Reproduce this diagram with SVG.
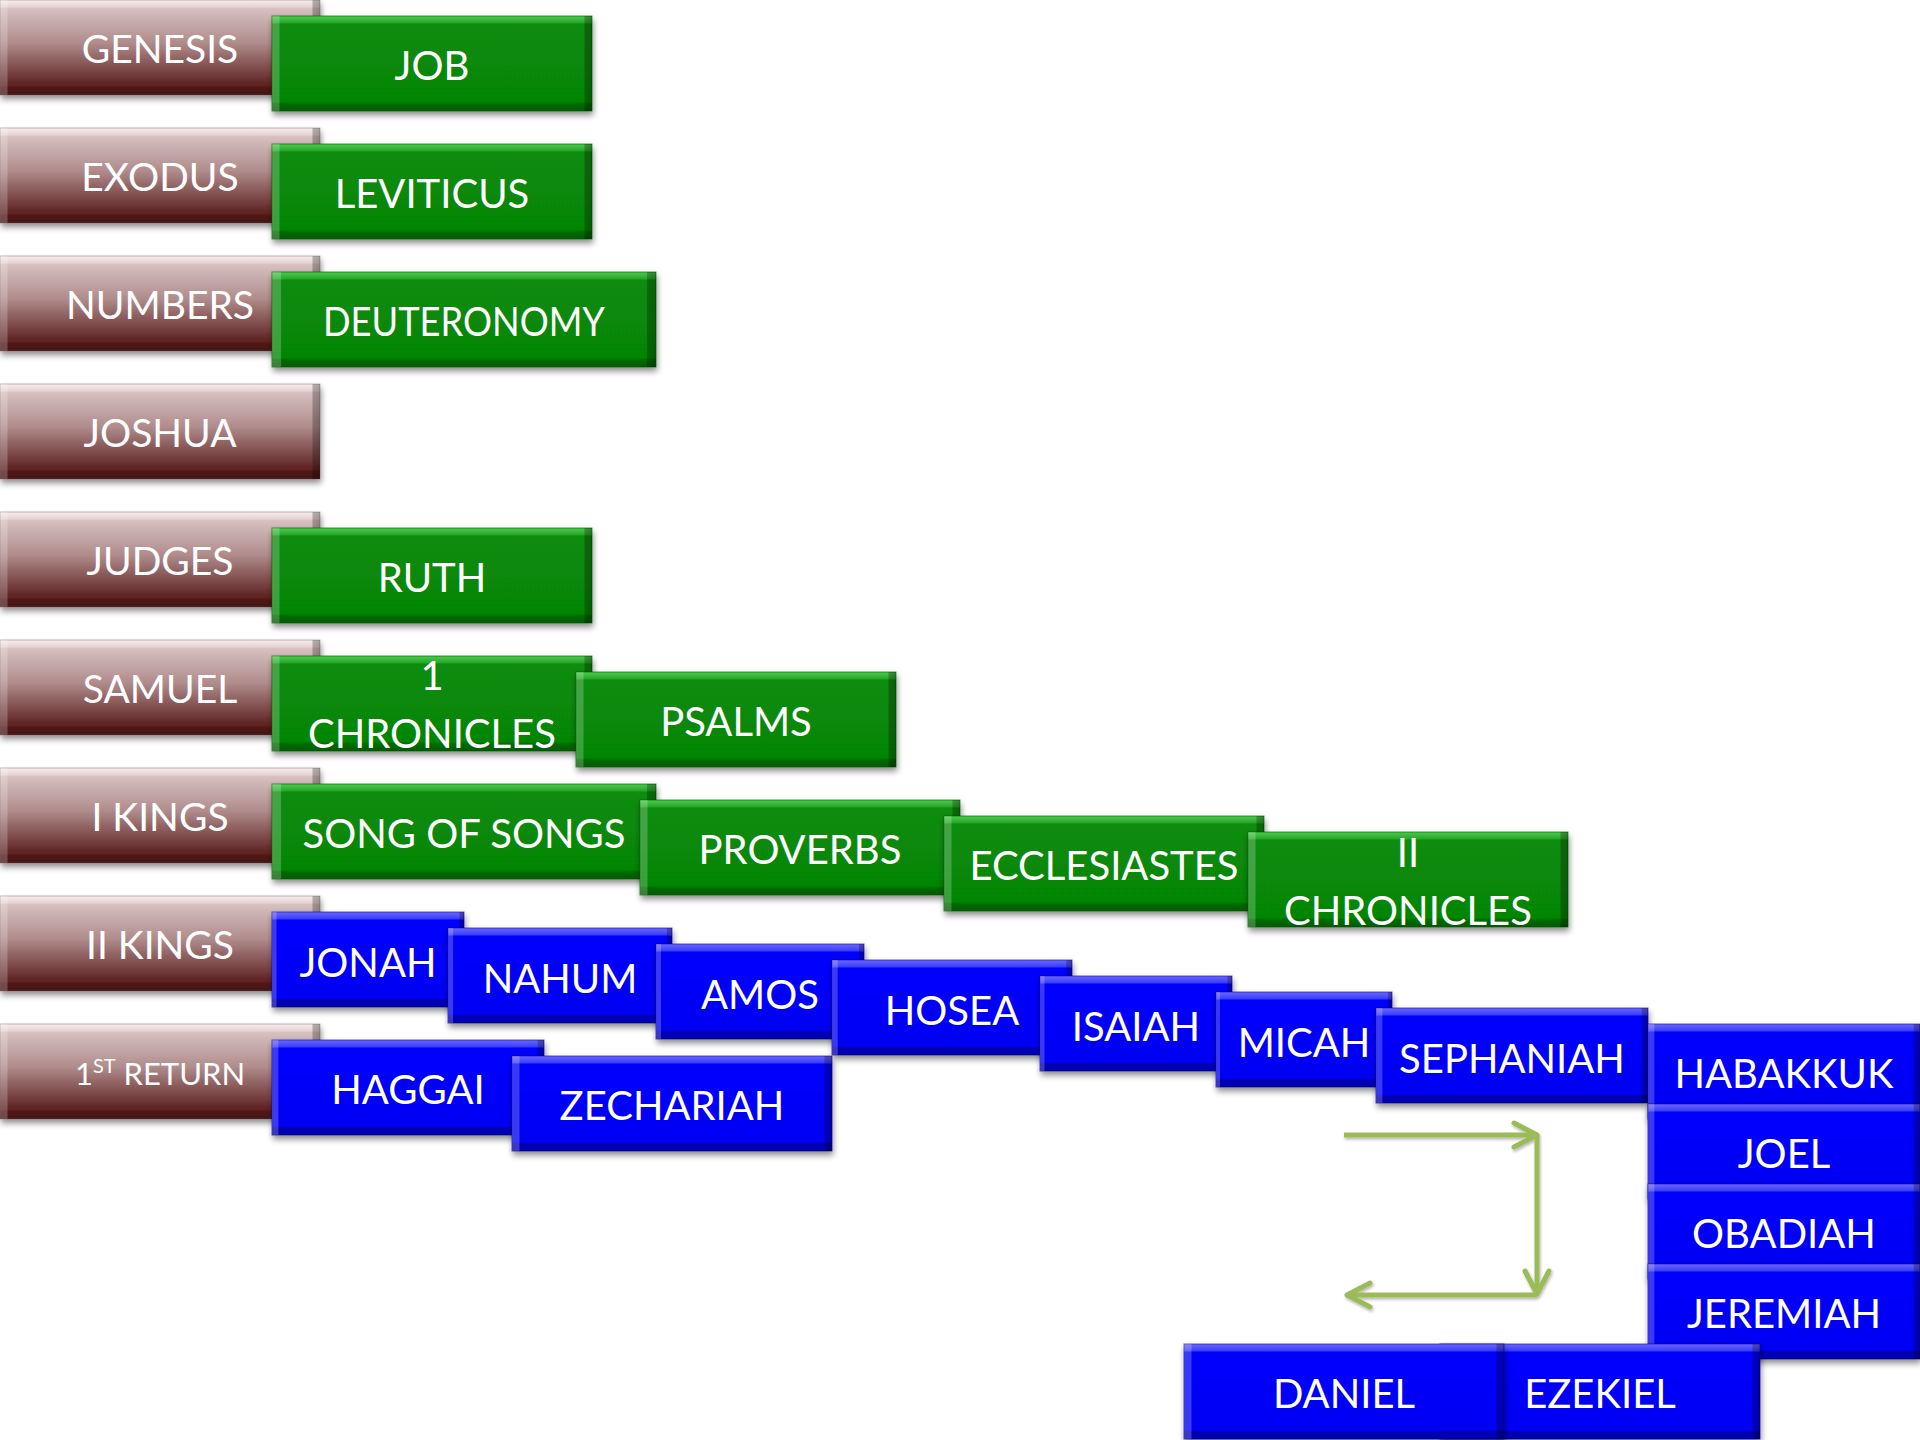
<svg xmlns="http://www.w3.org/2000/svg" width="1920" height="1440" viewBox="0 0 1920 1440">
<defs>
<linearGradient id="gBrown" x1="0" y1="0" x2="0" y2="1">
<stop offset="0" stop-color="#f6ecec"/>
<stop offset="0.07" stop-color="#e6d4d4"/>
<stop offset="0.09" stop-color="#d6c0c0"/>
<stop offset="0.45" stop-color="#b08c8c"/>
<stop offset="0.9" stop-color="#5e2020"/>
<stop offset="0.93" stop-color="#4e1616"/>
<stop offset="1" stop-color="#481414"/>
</linearGradient>
<linearGradient id="gGreen" x1="0" y1="0" x2="0" y2="1">
<stop offset="0" stop-color="#4acb4a"/>
<stop offset="0.07" stop-color="#2aa82a"/>
<stop offset="0.085" stop-color="#088c08"/>
<stop offset="0.9" stop-color="#068506"/>
<stop offset="0.925" stop-color="#056a05"/>
<stop offset="1" stop-color="#045e04"/>
</linearGradient>
<linearGradient id="gBlue" x1="0" y1="0" x2="0" y2="1">
<stop offset="0" stop-color="#6a6aff"/>
<stop offset="0.07" stop-color="#3c3cff"/>
<stop offset="0.085" stop-color="#0606ff"/>
<stop offset="0.9" stop-color="#0000f2"/>
<stop offset="0.925" stop-color="#0000bc"/>
<stop offset="1" stop-color="#0000a8"/>
</linearGradient>
<linearGradient id="gSide" x1="0" y1="0" x2="1" y2="0">
<stop offset="0" stop-color="#ffffff" stop-opacity="0.22"/>
<stop offset="0.022" stop-color="#ffffff" stop-opacity="0.22"/>
<stop offset="0.025" stop-color="#ffffff" stop-opacity="0"/>
<stop offset="0.975" stop-color="#000000" stop-opacity="0"/>
<stop offset="0.978" stop-color="#000000" stop-opacity="0.25"/>
<stop offset="1" stop-color="#000000" stop-opacity="0.3"/>
</linearGradient>
<filter id="shadow" x="-10%" y="-10%" width="125%" height="140%">
<feGaussianBlur in="SourceAlpha" stdDeviation="3"/>
<feOffset dx="1" dy="4" result="b"/>
<feComponentTransfer><feFuncA type="linear" slope="0.45"/></feComponentTransfer>
<feMerge><feMergeNode/><feMergeNode in="SourceGraphic"/></feMerge>
</filter>
<filter id="ashadow" x="-10%" y="-10%" width="130%" height="130%">
<feGaussianBlur in="SourceAlpha" stdDeviation="1.5"/>
<feOffset dx="1" dy="2"/>
<feComponentTransfer><feFuncA type="linear" slope="0.3"/></feComponentTransfer>
<feMerge><feMergeNode/><feMergeNode in="SourceGraphic"/></feMerge>
</filter>
<marker id="chev" markerUnits="userSpaceOnUse" markerWidth="60" markerHeight="60" refX="0" refY="0" orient="auto" style="overflow:visible">
<path d="M -23 -12 L 0 0 L -23 12" fill="none" stroke="#9bbb59" stroke-width="5" stroke-linecap="round" stroke-linejoin="round"/>
</marker>
</defs>
<style>
.br{fill:url(#gBrown);stroke:#6a3a3a;stroke-opacity:0.35;stroke-width:1;filter:url(#shadow)}
.gr{fill:url(#gGreen);stroke:#035003;stroke-opacity:0.6;stroke-width:1;filter:url(#shadow)}
.bl{fill:url(#gBlue);stroke:#00008a;stroke-opacity:0.6;stroke-width:1;filter:url(#shadow)}
.ov{fill:url(#gSide)}
text{font-family:Lato,"Open Sans","Liberation Sans",sans-serif;fill:#ffffff;text-anchor:middle}
.tb{font-size:39px}
.t{font-size:40px}
.arrow{fill:none;stroke:#9bbb59;stroke-width:5;marker-end:url(#chev)}
</style>

<g id="genesis"><rect class="br" x="0" y="0" width="320" height="95"/><rect class="ov" x="0" y="0" width="320" height="95"/><text class="tb" x="160" y="63">GENESIS</text></g>
<g id="exodus"><rect class="br" x="0" y="128" width="320" height="95"/><rect class="ov" x="0" y="128" width="320" height="95"/><text class="tb" x="160" y="191">EXODUS</text></g>
<g id="numbers"><rect class="br" x="0" y="256" width="320" height="95"/><rect class="ov" x="0" y="256" width="320" height="95"/><text class="tb" x="160" y="319">NUMBERS</text></g>
<g id="joshua"><rect class="br" x="0" y="384" width="320" height="95"/><rect class="ov" x="0" y="384" width="320" height="95"/><text class="tb" x="160" y="447">JOSHUA</text></g>
<g id="judges"><rect class="br" x="0" y="512" width="320" height="95"/><rect class="ov" x="0" y="512" width="320" height="95"/><text class="tb" x="160" y="575">JUDGES</text></g>
<g id="samuel"><rect class="br" x="0" y="640" width="320" height="95"/><rect class="ov" x="0" y="640" width="320" height="95"/><text class="tb" x="160" y="703">SAMUEL</text></g>
<g id="ikings"><rect class="br" x="0" y="768" width="320" height="95"/><rect class="ov" x="0" y="768" width="320" height="95"/><text class="tb" x="160" y="831">I KINGS</text></g>
<g id="iikings"><rect class="br" x="0" y="896" width="320" height="95"/><rect class="ov" x="0" y="896" width="320" height="95"/><text class="tb" x="160" y="959">II KINGS</text></g>
<g id="return1"><rect class="br" x="0" y="1024" width="320" height="95"/><rect class="ov" x="0" y="1024" width="320" height="95"/><text x="160" y="1085" style="font-size:31px">1<tspan dy="-12" style="font-size:20px">ST</tspan><tspan dy="12"> RETURN</tspan></text></g>

<g id="job"><rect class="gr" x="272" y="16" width="320" height="95"/><rect class="ov" x="272" y="16" width="320" height="95"/><text class="t" x="432" y="80">JOB</text></g>
<g id="leviticus"><rect class="gr" x="272" y="144" width="320" height="95"/><rect class="ov" x="272" y="144" width="320" height="95"/><text class="t" x="432" y="208">LEVITICUS</text></g>
<g id="deuteronomy"><rect class="gr" x="272" y="272" width="384" height="95"/><rect class="ov" x="272" y="272" width="384" height="95"/><text class="t" x="464" y="336" textLength="282" lengthAdjust="spacingAndGlyphs">DEUTERONOMY</text></g>
<g id="ruth"><rect class="gr" x="272" y="528" width="320" height="95"/><rect class="ov" x="272" y="528" width="320" height="95"/><text class="t" x="432" y="592">RUTH</text></g>
<g id="ichronicles"><rect class="gr" x="272" y="656" width="320" height="95"/><rect class="ov" x="272" y="656" width="320" height="95"/><text class="t" x="432" y="690">1</text><text class="t" x="432" y="748">CHRONICLES</text></g>
<g id="psalms"><rect class="gr" x="576" y="672" width="320" height="95"/><rect class="ov" x="576" y="672" width="320" height="95"/><text class="t" x="736" y="736">PSALMS</text></g>
<g id="songofsongs"><rect class="gr" x="272" y="784" width="384" height="95"/><rect class="ov" x="272" y="784" width="384" height="95"/><text class="t" x="464" y="848">SONG OF SONGS</text></g>
<g id="proverbs"><rect class="gr" x="640" y="800" width="320" height="95"/><rect class="ov" x="640" y="800" width="320" height="95"/><text class="t" x="800" y="864">PROVERBS</text></g>
<g id="ecclesiastes"><rect class="gr" x="944" y="816" width="320" height="95"/><rect class="ov" x="944" y="816" width="320" height="95"/><text class="t" x="1104" y="880">ECCLESIASTES</text></g>
<g id="iichronicles"><rect class="gr" x="1248" y="832" width="320" height="95"/><rect class="ov" x="1248" y="832" width="320" height="95"/><text class="t" x="1408" y="867">II</text><text class="t" x="1408" y="925">CHRONICLES</text></g>

<g id="jonah"><rect class="bl" x="272" y="912" width="192" height="95"/><rect class="ov" x="272" y="912" width="192" height="95"/><text class="t" x="368" y="977">JONAH</text></g>
<g id="nahum"><rect class="bl" x="448" y="928" width="224" height="95"/><rect class="ov" x="448" y="928" width="224" height="95"/><text class="t" x="560" y="993">NAHUM</text></g>
<g id="amos"><rect class="bl" x="656" y="944" width="208" height="95"/><rect class="ov" x="656" y="944" width="208" height="95"/><text class="t" x="760" y="1009">AMOS</text></g>
<g id="hosea"><rect class="bl" x="832" y="960" width="240" height="95"/><rect class="ov" x="832" y="960" width="240" height="95"/><text class="t" x="952" y="1025">HOSEA</text></g>
<g id="isaiah"><rect class="bl" x="1040" y="976" width="192" height="95"/><rect class="ov" x="1040" y="976" width="192" height="95"/><text class="t" x="1136" y="1041">ISAIAH</text></g>
<g id="micah"><rect class="bl" x="1216" y="992" width="176" height="95"/><rect class="ov" x="1216" y="992" width="176" height="95"/><text class="t" x="1304" y="1057">MICAH</text></g>
<g id="sephaniah"><rect class="bl" x="1376" y="1008" width="272" height="95"/><rect class="ov" x="1376" y="1008" width="272" height="95"/><text class="t" x="1512" y="1073">SEPHANIAH</text></g>
<g id="habakkuk"><rect class="bl" x="1648" y="1024" width="272" height="95"/><rect class="ov" x="1648" y="1024" width="272" height="95"/><text class="t" x="1784" y="1088">HABAKKUK</text></g>
<g id="joel"><rect class="bl" x="1648" y="1104" width="272" height="95"/><rect class="ov" x="1648" y="1104" width="272" height="95"/><text class="t" x="1784" y="1168">JOEL</text></g>
<g id="obadiah"><rect class="bl" x="1648" y="1184" width="272" height="95"/><rect class="ov" x="1648" y="1184" width="272" height="95"/><text class="t" x="1784" y="1248">OBADIAH</text></g>
<g id="jeremiah"><rect class="bl" x="1648" y="1264" width="272" height="95"/><rect class="ov" x="1648" y="1264" width="272" height="95"/><text class="t" x="1784" y="1328">JEREMIAH</text></g>
<g id="haggai"><rect class="bl" x="272" y="1040" width="272" height="95"/><rect class="ov" x="272" y="1040" width="272" height="95"/><text class="t" x="408" y="1104">HAGGAI</text></g>
<g id="zechariah"><rect class="bl" x="512" y="1056" width="320" height="95"/><rect class="ov" x="512" y="1056" width="320" height="95"/><text class="t" x="672" y="1120">ZECHARIAH</text></g>
<g id="ezekiel"><rect class="bl" x="1440" y="1344" width="320" height="95"/><rect class="ov" x="1440" y="1344" width="320" height="95"/><text class="t" x="1600" y="1408">EZEKIEL</text></g>
<g id="daniel"><rect class="bl" x="1184" y="1344" width="320" height="95"/><rect class="ov" x="1184" y="1344" width="320" height="95"/><text class="t" x="1344" y="1408">DANIEL</text></g>

<g id="connectors" filter="url(#ashadow)">
<path class="arrow" d="M1344 1135 H1537"/>
<path class="arrow" d="M1537 1135 V1294"/>
<path class="arrow" d="M1537 1295 H1347"/>
</g>
</svg>
